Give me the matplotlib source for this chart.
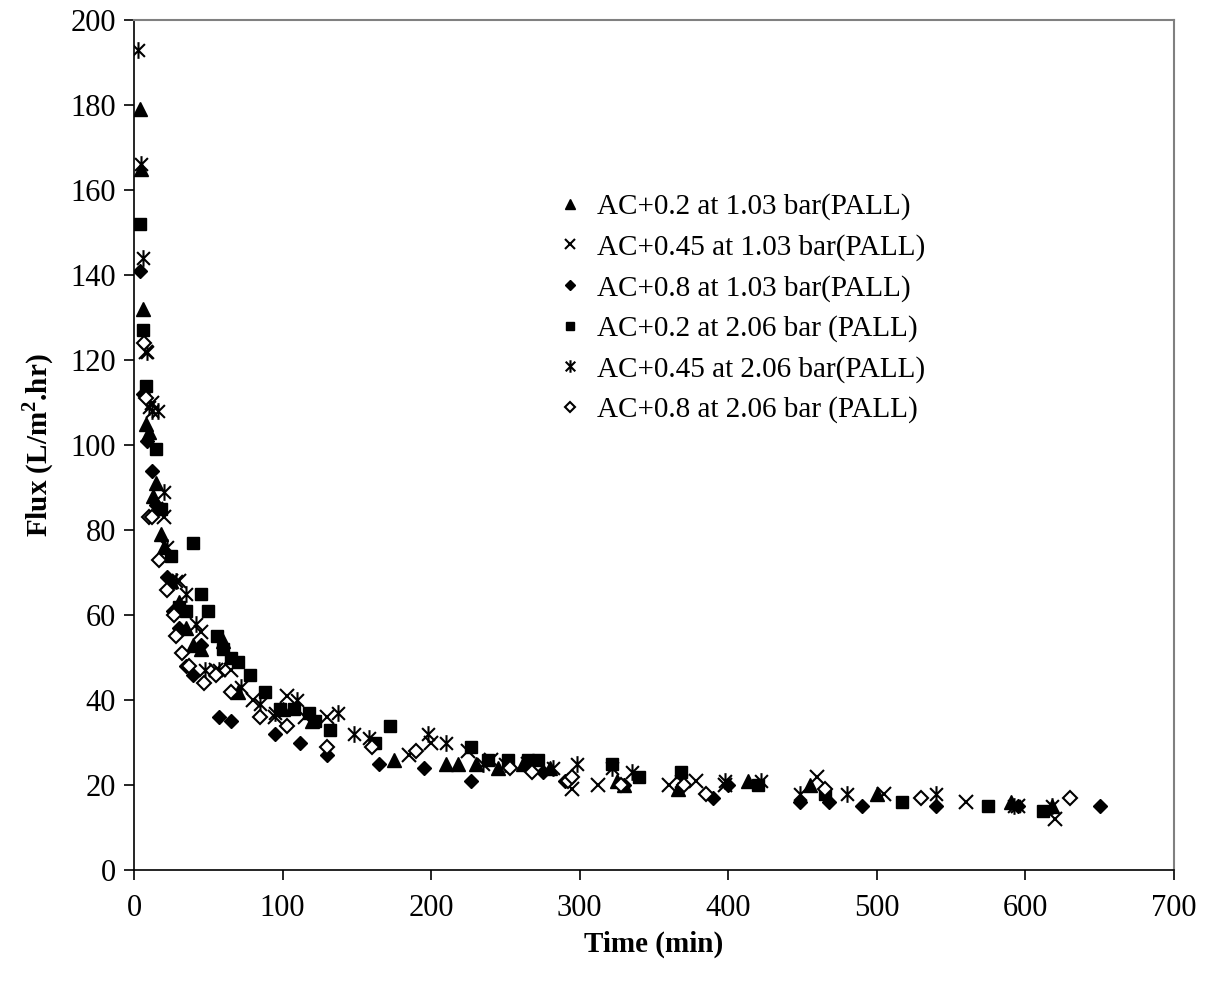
import matplotlib
matplotlib.use("Agg")
import matplotlib.pyplot as plt
from matplotlib.path import Path

plt.rcParams['font.family'] = ['Liberation Serif', 'DejaVu Serif']
plt.rcParams['mathtext.fontset'] = 'custom'
plt.rcParams['mathtext.rm'] = 'Liberation Serif'
plt.rcParams['mathtext.bf'] = 'Liberation Serif:bold'

# --- data (time in min, flux in L/m2.hr) ---
t1 = [4, 5, 6, 8, 10, 13, 15, 18, 20, 25, 30, 35, 40, 45, 60, 70, 100, 120, 175, 210,
      218, 230, 245, 262, 280, 325, 330, 366, 413, 455, 500, 590, 618]
f1 = [179, 165, 132, 105, 103, 88, 91, 79, 76, 68, 63, 57, 53, 52, 54, 42, 38, 35, 26, 25,
      25, 25, 24, 25, 24, 21, 20, 19, 21, 20, 18, 16, 15]

t2 = [8, 12, 15, 20, 25, 30, 45, 55, 65, 80, 95, 103, 115, 130, 185, 200, 225, 240, 265,
      295, 312, 360, 378, 398, 460, 505, 560, 595, 620]
f2 = [122, 110, 85, 83, 68, 68, 56, 47, 47, 40, 36, 41, 36, 36, 27, 30, 28, 26, 25,
      19, 20, 20, 21, 20, 22, 18, 16, 15, 12]

t3 = [4, 6, 9, 12, 15, 22, 26, 30, 35, 40, 45, 57, 65, 95, 112, 130, 165, 195, 227, 275,
      290, 330, 390, 400, 448, 468, 490, 540, 595, 650]
f3 = [141, 112, 101, 94, 86, 69, 61, 57, 48, 46, 53, 36, 35, 32, 30, 27, 25, 24, 21, 23,
      21, 20, 17, 20, 16, 16, 15, 15, 15, 15]

t4 = [4, 6, 8, 15, 18, 25, 30, 35, 40, 45, 50, 56, 60, 65, 70, 78, 88, 98, 108, 118, 122,
      132, 172, 162, 227, 238, 252, 265, 272, 322, 340, 368, 420, 465, 517, 575, 612]
f4 = [152, 127, 114, 99, 85, 74, 62, 61, 77, 65, 61, 55, 52, 50, 49, 46, 42, 38, 38, 37, 35,
      33, 34, 30, 29, 26, 26, 26, 26, 25, 22, 23, 20, 18, 16, 15, 14]

t5 = [3, 5, 6, 9, 10, 12, 16, 20, 22, 28, 35, 42, 48, 57, 72, 85, 95, 110, 137, 148, 158,
      198, 210, 235, 250, 282, 298, 322, 335, 368, 398, 422, 448, 480, 540, 592, 618]
f5 = [193, 166, 144, 122, 109, 108, 108, 89, 76, 68, 65, 58, 47, 47, 43, 39, 37, 40, 37, 32, 31,
      32, 30, 25, 25, 24, 25, 24, 23, 21, 21, 21, 18, 18, 18, 15, 15]

t6 = [7, 8, 10, 12, 17, 22, 27, 28, 32, 37, 47, 55, 65, 85, 103, 130, 160, 190, 253, 268,
      292, 295, 328, 370, 385, 465, 530, 630]
f6 = [124, 111, 83, 83, 73, 66, 60, 55, 51, 48, 44, 46, 42, 36, 34, 29, 29, 28, 24, 23,
      21, 22, 20, 20, 18, 19, 17, 17]

labels = ["AC+0.2 at 1.03 bar(PALL)", "AC+0.45 at 1.03 bar(PALL)", "AC+0.8 at 1.03 bar(PALL)",
          "AC+0.2 at 2.06 bar (PALL)", "AC+0.45 at 2.06 bar(PALL)", "AC+0.8 at 2.06 bar (PALL)"]

# Excel style asterisk: X plus vertical bar
star = Path([(-1, -1), (1, 1), (-1, 1), (1, -1), (0, -1.3), (0, 1.3)],
            [Path.MOVETO, Path.LINETO, Path.MOVETO, Path.LINETO, Path.MOVETO, Path.LINETO])

fig = plt.figure(figsize=(12.07, 9.94), dpi=100)
ax = fig.add_axes([0.111, 0.1247, 0.8617, 0.8552])

ax.plot(t1, f1, ls='none', marker='^', ms=10, color='black', label=labels[0])
ax.plot(t2, f2, ls='none', marker='x', ms=10, mew=1.5, color='black', label=labels[1])
ax.plot(t3, f3, ls='none', marker='D', ms=7, color='black', label=labels[2])
ax.plot(t4, f4, ls='none', marker='s', ms=8.5, color='black', label=labels[3])
ax.plot(t5, f5, ls='none', marker=star, ms=12, mew=1.5, color='black', label=labels[4])
ax.plot(t6, f6, ls='none', marker='D', ms=7, mfc='white', mew=1.5, color='black', label=labels[5])

ax.set_xlim(0, 700)
ax.set_ylim(0, 200)
ax.set_xticks(range(0, 701, 100))
ax.set_yticks(range(0, 201, 20))
ax.tick_params(labelsize=22, direction='out', length=7, width=1.2, color='black')
ax.tick_params(axis='x', pad=10)
ax.tick_params(axis='y', pad=6)
for s in ['top', 'right']:
    ax.spines[s].set_color('gray')
    ax.spines[s].set_linewidth(1.5)
for s in ['left', 'bottom']:
    ax.spines[s].set_linewidth(1.2)

ax.set_xlabel("Time (min)", fontsize=21, fontweight='bold', labelpad=6)
ax.set_ylabel(r"Flux (L/m$^\mathbf{2}$.hr)", fontsize=21, fontweight='bold', labelpad=10)

ax.legend(loc='upper left', bbox_to_anchor=(0.386, 0.827), frameon=False, fontsize=21,
          handlelength=0.6, handletextpad=0.6, labelspacing=0.47, markerscale=0.75)

fig.savefig("out.png", dpi=100)
